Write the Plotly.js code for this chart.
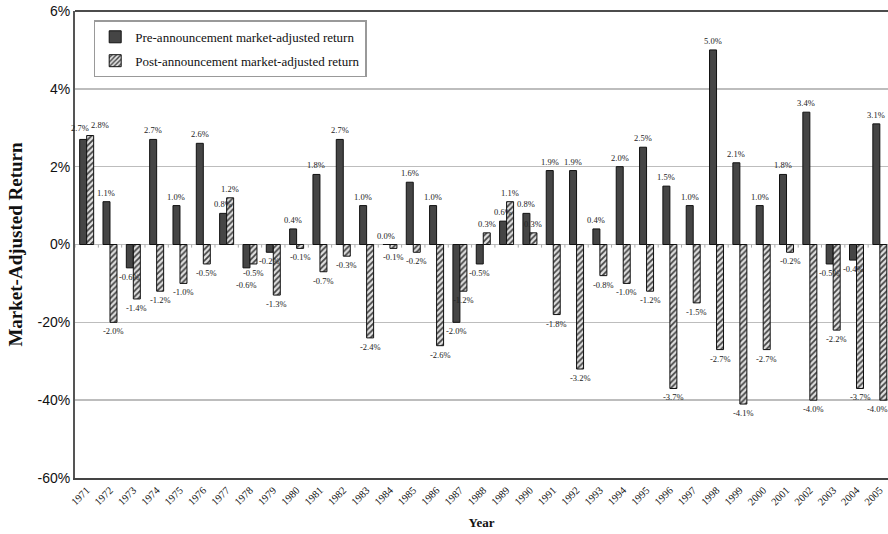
<!DOCTYPE html>
<html>
<head>
<meta charset="utf-8">
<script src="https://cdn.plot.ly/plotly-3.0.1.min.js"></script>
<style>html,body{margin:0;padding:0;background:#fff;}#chart{width:888px;height:534px;}</style>
</head>
<body>
<div id="chart"></div>
<script>
const years = ['1971','1972','1973','1974','1975','1976','1977','1978','1979','1980','1981','1982','1983','1984','1985','1986','1987','1988','1989','1990','1991','1992','1993','1994','1995','1996','1997','1998','1999','2000','2001','2002','2003','2004','2005'];
const preReturn = [2.7,1.1,-0.6,2.7,1.0,2.6,0.8,-0.6,-0.2,0.4,1.8,2.7,1.0,0.0,1.6,1.0,-2.0,-0.5,0.6,0.8,1.9,1.9,0.4,2.0,2.5,1.5,1.0,5.0,2.1,1.0,1.8,3.4,-0.5,-0.4,3.1];
const postReturn = [2.8,-2.0,-1.4,-1.2,-1.0,-0.5,1.2,-0.5,-1.3,-0.1,-0.7,-0.3,-2.4,-0.1,-0.2,-2.6,-1.2,0.3,1.1,0.3,-1.8,-3.2,-0.8,-1.0,-1.2,-3.7,-1.5,-2.7,-4.1,-2.7,-0.2,-4.0,-2.2,-3.7,-4.0];
const yTickVals = [-6,-4,-2,0,2,4,6];
const yTickText = ['-60%','-40%','-20%','0%','2%','4%','6%'];

// small pixel nudges for crowded labels (styling only)
const preNudge = {'1971':[-3,-2], '1978':[0,8]};
const postNudge = {'1971':[10,-2], '2005':[-6,0]};

const labelFont = {family:'Liberation Serif, serif', size:8.5, color:'#222'};

const traces = [
  {
    type:'bar', name:'Pre-announcement market-adjusted return', legendgroup:'a',
    x: years, y: preReturn,
    marker:{color:'#454545', line:{color:'#111', width:1}},
    hoverinfo:'x+y'
  },
  {
    type:'bar', name:'Post-announcement market-adjusted return', legendgroup:'b',
    x: years, y: postReturn,
    marker:{color:'#e0e0e0', line:{color:'#111', width:1},
      pattern:{shape:'/', fgcolor:'#444', bgcolor:'#e0e0e0', size:4, solidity:0.45}},
    hoverinfo:'x+y'
  }
];

const annotations = [];
function addLabels(vals, side, nudge) {
  for (let i = 0; i < vals.length; i++) {
    const v = vals[i];
    const n = nudge[years[i]] || [0, 0];
    annotations.push({
      x: i, y: v, xref:'x', yref:'y',
      text: v.toFixed(1) + '%', showarrow:false,
      font: labelFont,
      xanchor:'center', yanchor: v >= 0 ? 'bottom' : 'top',
      xshift: side * 3.5 + n[0],
      yshift: (v >= 0 ? 2 : -2) - n[1]
    });
  }
}
addLabels(preReturn, -1, preNudge);
addLabels(postReturn, 1, postNudge);

const shapes = [
  {type:'line', xref:'paper', yref:'paper', x0:0, x1:1, y0:1, y1:1, line:{color:'#111', width:1.5}}
];
for (let i = 0; i < years.length; i++) {
  shapes.push({type:'line', xref:'x', yref:'y', x0:i - 0.5, x1:i - 0.5, y0:0, y1:-0.08,
    line:{color:'#aaa', width:1}, layer:'above'});
}

const layout = {
  width:888, height:534,
  margin:{l:75, r:0, t:11, b:56},
  paper_bgcolor:'#fff', plot_bgcolor:'#fff',
  barmode:'group', bargap:0.4, bargroupgap:0,
  showlegend:true,
  legend:{x:0.023, y:0.98, xanchor:'left', yanchor:'top',
    bgcolor:'#fff', bordercolor:'#999', borderwidth:1.5,
    font:{family:'Liberation Serif, serif', size:13, color:'#111'},
    traceorder:'grouped', tracegroupgap:4},
  xaxis:{
    type:'category', range:[-0.5, 34.35],
    tickangle:-45, tickfont:{family:'Liberation Serif, serif', size:10.5, color:'#111'},
    showline:true, linecolor:'#444', linewidth:2, mirror:false,
    showgrid:false, ticks:'', automargin:false,
    title:{text:'Year', font:{family:'Liberation Serif, serif', size:13, color:'#111', weight:'bold'}, standoff:12}
  },
  yaxis:{
    range:[-6, 6], tickvals:yTickVals, ticktext:yTickText,
    tickfont:{family:'Liberation Sans, Arial, sans-serif', size:14, color:'#111'},
    showline:true, linecolor:'#555', linewidth:2,
    showgrid:true, gridcolor:'#bdbdbd', gridwidth:1.5,
    zeroline:true, zerolinecolor:'#bdbdbd', zerolinewidth:1.5,
    ticks:'', automargin:false,
    title:{text:'Market-Adjusted Return', font:{family:'Liberation Serif, serif', size:19, color:'#111', weight:'bold'}, standoff:10}
  },
  annotations: annotations,
  shapes: shapes
};

Plotly.newPlot('chart', traces, layout, {displayModeBar:false, staticPlot:true});
</script>
</body>
</html>
